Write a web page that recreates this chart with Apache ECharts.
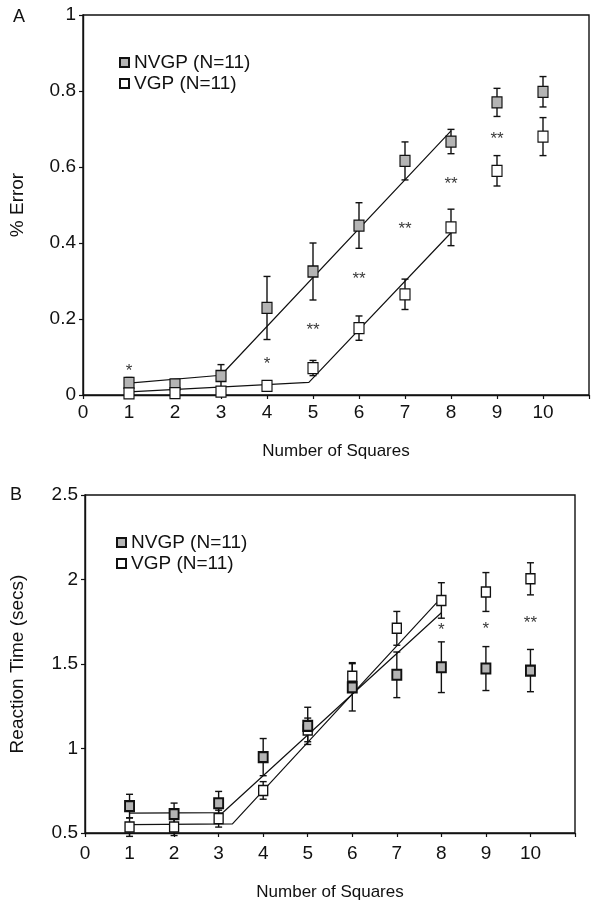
<!DOCTYPE html>
<html>
<head>
<meta charset="utf-8">
<script src="https://cdn.jsdelivr.net/npm/echarts@6/dist/echarts.min.js"></script>
<style>
  * { margin: 0; padding: 0; }
  body { background: #fff; }
  #chart { width: 592px; height: 902px; }
</style>
</head>
<body>
<div id="chart"></div>
<script>
// x categories (number of squares)
var squares = [1, 2, 3, 4, 5, 6, 7, 8, 9, 10];

// panel A: % error, mean and error bar half-length
var errNVGP   = [0.032, 0.028, 0.05, 0.229, 0.325, 0.446, 0.616, 0.667, 0.77, 0.798];
var errNVGPse = [0.014, 0.01, 0.03, 0.083, 0.075, 0.06, 0.05, 0.032, 0.037, 0.04];
var errVGP    = [0.004, 0.005, 0.009, 0.024, 0.071, 0.176, 0.265, 0.441, 0.59, 0.68];
var errVGPse  = [0.003, 0.003, 0.004, 0.005, 0.02, 0.032, 0.04, 0.048, 0.04, 0.05];

// panel B: reaction time (secs)
var rtNVGP   = [0.659, 0.612, 0.676, 0.949, 1.134, 1.362, 1.436, 1.481, 1.473, 1.461];
var rtNVGPse = [0.07, 0.065, 0.07, 0.11, 0.11, 0.14, 0.135, 0.15, 0.13, 0.125];
var rtVGP    = [0.535, 0.535, 0.585, 0.752, 1.11, 1.428, 1.711, 1.876, 1.926, 2.004];
var rtVGPse  = [0.055, 0.05, 0.05, 0.052, 0.07, 0.08, 0.1, 0.105, 0.115, 0.095];

// bilinear fit lines (breakpoints)
var fitErrNVGP = [[1, 0.031], [3, 0.052], [8, 0.695]];
var fitErrVGP  = [[1, 0.008], [4.91, 0.033], [8, 0.427]];
var fitRtNVGP  = [[1, 0.618], [3.09, 0.62], [8, 1.803]];
var fitRtVGP   = [[1, 0.55], [3.31, 0.554], [8, 1.893]];

// significance marks
var starsErrX = [1, 4, 5, 6, 7, 8, 9];
var starsErrY = [0.072, 0.09, 0.18, 0.316, 0.446, 0.566, 0.684];
var starsErrT = ['*', '*', '**', '**', '**', '**', '**'];
var starsRtX = [8, 9, 10];
var starsRtY = [1.721, 1.728, 1.763];
var starsRtT = ['*', '*', '**'];

var FONT = '"Liberation Sans", Arial, sans-serif';
var INK = '#111';
var GRAY = '#b4b4b4';

function pts(xs, ys) { return xs.map(function (x, i) { return [x, ys[i]]; }); }
function errPts(xs, ys, es) { return xs.map(function (x, i) { return [x, ys[i], es[i]]; }); }
function marks(xs, ys, ts) { return xs.map(function (x, i) { return [x, ys[i], ts[i]]; }); }

function errorBars(params, api) {
  var x = api.value(0), y = api.value(1), e = api.value(2);
  var hi = api.coord([x, y + e]);
  var lo = api.coord([x, y - e]);
  var w = 3.5;
  var st = { stroke: INK, lineWidth: 1.4 };
  return {
    type: 'group',
    children: [
      { type: 'line', shape: { x1: hi[0], y1: hi[1], x2: lo[0], y2: lo[1] }, style: st },
      { type: 'line', shape: { x1: hi[0] - w, y1: hi[1], x2: hi[0] + w, y2: hi[1] }, style: st },
      { type: 'line', shape: { x1: lo[0] - w, y1: lo[1], x2: lo[0] + w, y2: lo[1] }, style: st }
    ]
  };
}

function xAx(gi) {
  return {
    gridIndex: gi, type: 'value', min: 0, max: 11, interval: 1,
    name: 'Number of Squares', nameLocation: 'middle', nameGap: gi === 0 ? 48 : 51,
    nameTextStyle: { fontFamily: FONT, fontSize: 17, color: INK },
    axisLine: { lineStyle: { color: INK, width: 1.4 } },
    axisTick: { length: 4, lineStyle: { color: INK, width: 1.2 } },
    axisLabel: {
      fontFamily: FONT, fontSize: 19, color: INK, margin: gi === 0 ? 8 : 11,
      formatter: function (v) { return v > 10 ? '' : String(v); }
    },
    splitLine: { show: false }
  };
}

function yAx(gi, min, max, step, name, gap) {
  return {
    gridIndex: gi, type: 'value', min: min, max: max, interval: step,
    name: name, nameLocation: 'middle', nameGap: gap, nameRotate: 90,
    nameTextStyle: { fontFamily: FONT, fontSize: 19, color: INK },
    axisLine: { show: true, lineStyle: { color: INK, width: 1.4 } },
    axisTick: { show: true, length: 4, lineStyle: { color: INK, width: 1.2 } },
    axisLabel: { fontFamily: FONT, fontSize: 19, color: INK, margin: 7 },
    splitLine: { show: false }
  };
}

function markerSeries(name, gi, data, fill, size, bw) {
  return {
    name: name, type: 'scatter', xAxisIndex: gi, yAxisIndex: gi,
    symbol: 'rect', symbolSize: size, z: 4,
    itemStyle: { color: fill, borderColor: INK, borderWidth: bw, opacity: 1 },
    data: data
  };
}

function fitSeries(gi, data) {
  return {
    type: 'line', xAxisIndex: gi, yAxisIndex: gi, data: data,
    symbol: 'none', z: 3, silent: true,
    lineStyle: { color: INK, width: 1.2 }
  };
}

function barSeries(gi, data) {
  return {
    type: 'custom', xAxisIndex: gi, yAxisIndex: gi, z: 2, silent: true,
    renderItem: errorBars, data: data
  };
}

function starSeries(gi, data) {
  return {
    type: 'scatter', xAxisIndex: gi, yAxisIndex: gi, symbolSize: 0, silent: true,
    data: data,
    label: {
      show: true, position: 'inside', offset: [0, 4],
      fontFamily: FONT, fontSize: 17, color: '#000',
      formatter: function (p) { return p.data[2]; }
    }
  };
}

function legendAt(left, top) {
  return {
    orient: 'vertical', left: left, top: top, itemGap: 2,
    itemWidth: 9, itemHeight: 9, icon: 'rect',
    textStyle: { fontFamily: FONT, fontSize: 19, color: INK },
    data: ['NVGP (N=11)', 'VGP (N=11)'], selectedMode: false
  };
}

var chart = echarts.init(document.getElementById('chart'), null, { renderer: 'canvas' });
chart.setOption({
  animation: false,
  backgroundColor: '#fff',
  grid: [
    { left: 79, top: 15, width: 524, height: 380, show: true, borderColor: INK, borderWidth: 1.4 },
    { left: 79, top: 495, width: 496, height: 344, show: true, borderColor: INK, borderWidth: 1.4 }
  ],
  legend: [legendAt(114, 48), legendAt(111, 528)],
  xAxis: [xAx(0), xAx(1)],
  yAxis: [
    yAx(0, 0, 1, 0.2, '% Error', 56),
    yAx(1, 0.5, 2.5, 0.5, 'Reaction Time (secs)', 58)
  ],
  graphic: [
    { type: 'text', left: 13, top: 8, style: { text: 'A', font: '18px ' + FONT, fill: INK } },
    { type: 'text', left: 10, top: 486, style: { text: 'B', font: '18px ' + FONT, fill: INK } }
  ],
  series: [
    fitSeries(0, fitErrNVGP),
    fitSeries(0, fitErrVGP),
    barSeries(0, errPts(squares, errNVGP, errNVGPse)),
    barSeries(0, errPts(squares, errVGP, errVGPse)),
    markerSeries('NVGP (N=11)', 0, pts(squares, errNVGP), GRAY, [10, 11], 1.2),
    markerSeries('VGP (N=11)', 0, pts(squares, errVGP), '#fff', [10, 11], 1.2),
    starSeries(0, marks(starsErrX, starsErrY, starsErrT)),

    fitSeries(1, fitRtNVGP),
    fitSeries(1, fitRtVGP),
    barSeries(1, errPts(squares, rtNVGP, rtNVGPse)),
    barSeries(1, errPts(squares, rtVGP, rtVGPse)),
    markerSeries('VGP (N=11)', 1, pts(squares, rtVGP), '#fff', [9, 10], 1.4),
    markerSeries('NVGP (N=11)', 1, pts(squares, rtNVGP), GRAY, [9, 10], 2),
    starSeries(1, marks(starsRtX, starsRtY, starsRtT))
  ]
});
</script>
</body>
</html>
